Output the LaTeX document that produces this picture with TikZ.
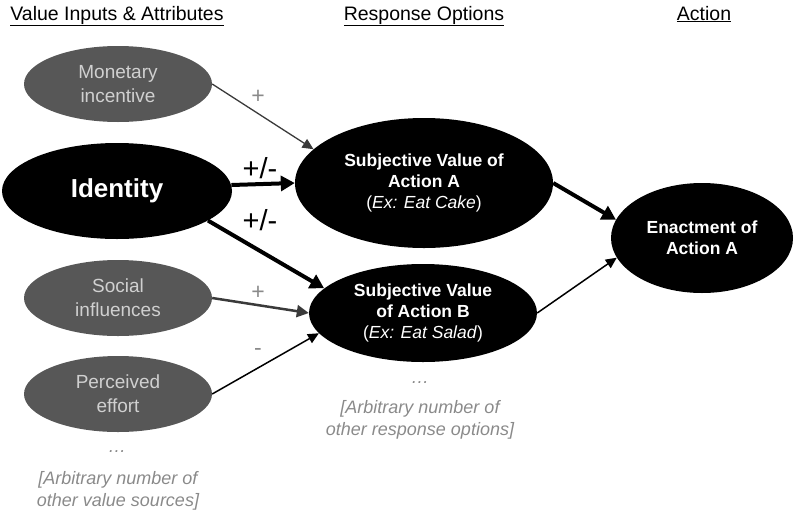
\documentclass[tikz,border=0pt]{standalone}
\usepackage{fontspec}
\setmainfont{Liberation Sans}
\usetikzlibrary{shapes.geometric,arrows.meta}
\definecolor{ellgrey}{HTML}{575757}
\definecolor{elltext}{HTML}{D0D0D0}
\definecolor{notegrey}{HTML}{8A8A8A}
\definecolor{arrgrey}{HTML}{3A3A3A}
\tikzset{
  greyell/.style={ellipse, fill=ellgrey, text=elltext, inner sep=0pt, align=center,
    minimum width=188pt, minimum height=76pt, font=\fontsize{19}{24}\selectfont},
  blackell/.style={ellipse, fill=black, text=white, inner sep=0pt, align=center,
    font=\bfseries\fontsize{17.5}{21}\selectfont},
  header/.style={font=\fontsize{19.5}{23}\selectfont, anchor=base},
  note/.style={text=notegrey, align=center, font=\itshape\fontsize{18}{22}\selectfont},
  thickarr/.style={line width=4pt, -{Triangle[length=14pt,width=15pt]}},
  thinarr/.style={line width=1.5pt, -{Triangle[length=11pt,width=10pt]}},
  medarr/.style={line width=2.5pt, -{Triangle[length=12pt,width=12pt]}},
  sign/.style={font=\fontsize{23}{24}\selectfont},
  bigsign/.style={font=\fontsize{29}{30}\selectfont},
}
\begin{document}
\begin{tikzpicture}[x=1pt,y=-1pt]
\useasboundingbox (0,0) rectangle (800,512);
% headers
\node[header] (h1) at (117,20) {\underline{Value Inputs \& Attributes}};
\node[header] (h2) at (424,20) {\underline{Response Options}};
\node[header] (h3) at (704,20) {\underline{Action}};
% left column
\node[greyell] (mon) at (118,84) {Monetary\\incentive};
\node[ellipse, fill=black, text=white, inner sep=0pt, minimum width=230pt, minimum height=96pt,
  font=\bfseries\fontsize{26}{30}\selectfont] (id) at (117,191) {Identity};
\node[greyell] (soc) at (118,298) {Social\\influences};
\node[greyell] (perc) at (118,394) {Perceived\\effort};
\node[note] (dots1) at (117,452) {\dots};
\node[note] (n1) at (118,491) {[Arbitrary number of\\other value sources]};
% middle column
\node[blackell, minimum width=258pt, minimum height=130pt] (sa) at (424,183)
  {Subjective Value of\\Action A\\{\mdseries(\textit{Ex: Eat Cake})}};
\node[blackell, minimum width=228pt, minimum height=98pt] (sb) at (423,313)
  {Subjective Value\\of Action B\\{\mdseries(\textit{Ex: Eat Salad})}};
\node[note] (dots2) at (420,383) {\dots};
\node[note] (n2) at (420,420) {[Arbitrary number of\\other response options]};
% right column
\node[blackell, minimum width=182pt, minimum height=110pt] (en) at (702,238)
  {Enactment of\\Action A};
% connectors
\draw[thinarr, arrgrey, line width=1.3pt] (mon.east) -- (sa.163);
\draw[thickarr] (id.3) -- (sa.180);
\draw[thickarr] (id.-18) -- (sb.166);
\draw[medarr, arrgrey] (soc.east) -- (sb.180);
\draw[thinarr] (perc.east) -- (sb.191);
\draw[thickarr] (sa.east) -- (en.168);
\draw[thinarr] (sb.east) -- (en.193);
% labels
\node[sign, text=notegrey] (l1) at (258,97) {+};
\node[bigsign] (l2) at (260,168) {+/-};
\node[bigsign] (l3) at (260,220) {+/-};
\node[sign, text=notegrey] (l4) at (258,293) {+};
\node[sign, text=notegrey] (l5) at (258,352) {-};
\end{tikzpicture}
\end{document}
